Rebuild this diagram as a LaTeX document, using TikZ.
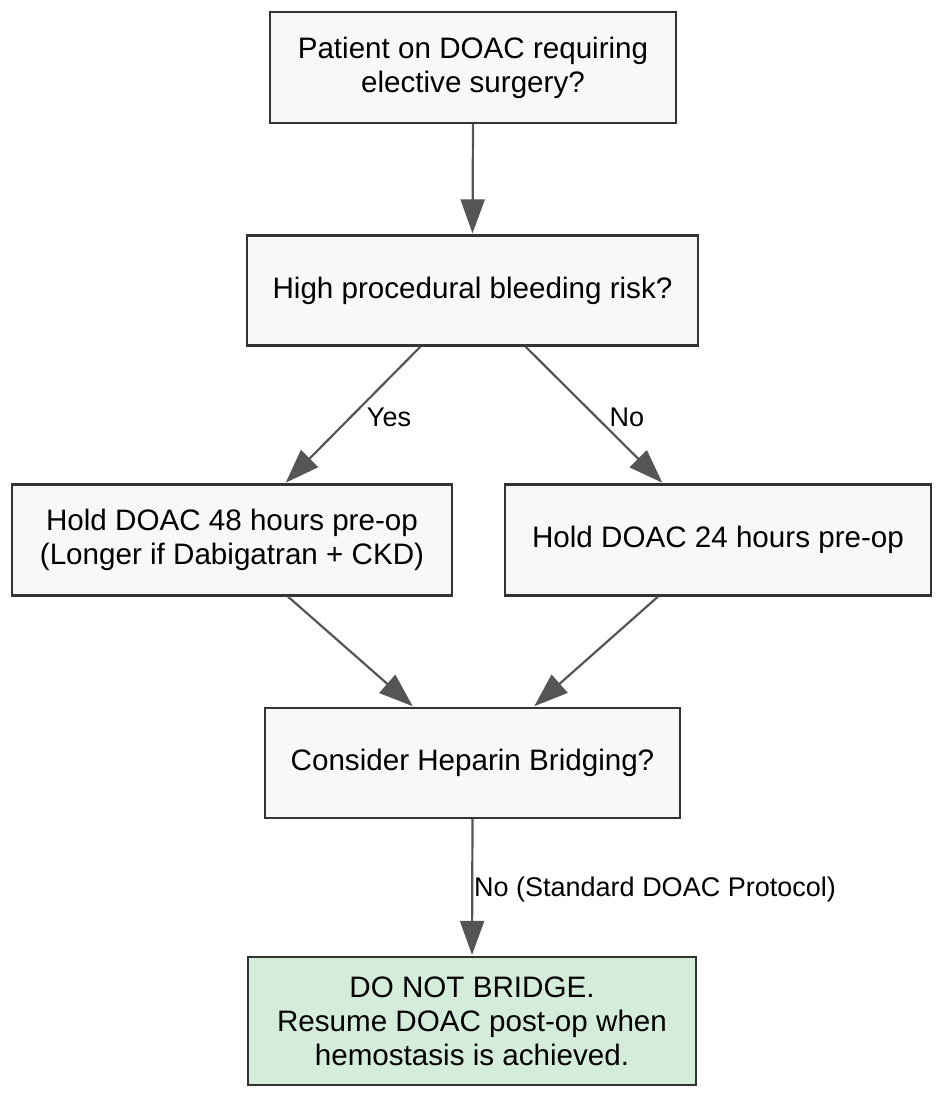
\documentclass[tikz,border=0pt]{standalone}
\usepackage{fontspec}
\setmainfont{Liberation Sans}
\usetikzlibrary{arrows.meta,calc}
\definecolor{boxfill}{HTML}{F8F8F8}
\definecolor{boxline}{HTML}{333333}
\definecolor{edgecol}{HTML}{555555}
\definecolor{greenfill}{HTML}{D4EDDA}
\tikzset{
  flowbox/.style={draw=boxline, line width=2.2pt, fill=boxfill, rectangle, align=center,
    inner sep=0pt, font=\fontsize{29.6}{34}\selectfont},
  okbox/.style={flowbox, fill=greenfill},
  flowedge/.style={draw=edgecol, line width=2.2pt, -{Triangle[length=34pt,width=24pt]}, shorten >=1pt},
  lbl/.style={inner sep=0pt, font=\fontsize{27}{31}\selectfont}
}
\begin{document}
\begin{tikzpicture}[x=1pt,y=-1pt]
\useasboundingbox (0,0) rectangle (942,1098);
\node[flowbox, minimum width=406pt, minimum height=111pt] (b1) at (473,67.5) {Patient on DOAC requiring\\elective surgery?};
\node[flowbox, minimum width=451pt, minimum height=110pt] (b2) at (472.5,290.5) {High procedural bleeding risk?};
\node[flowbox, minimum width=440pt, minimum height=111pt] (b3) at (232,540) {Hold DOAC 48 hours pre-op\\(Longer if Dabigatran + CKD)};
\node[flowbox, minimum width=426pt, minimum height=111pt] (b4) at (718,540) {Hold DOAC 24 hours pre-op};
\node[flowbox, minimum width=415pt, minimum height=110pt] (b5) at (472.5,763) {Consider Heparin Bridging?};
\node[okbox, minimum width=448pt, minimum height=128pt] (b6) at (472,1021) {DO NOT BRIDGE.\\Resume DOAC post-op when\\hemostasis is achieved.};
\draw[flowedge] (b1.south) -- (b2.north);
\draw[flowedge] ($(b2.south)+(-52,0)$) -- ($(b3.north)+(53,0)$);
\draw[flowedge] ($(b2.south)+(53,0)$) -- ($(b4.north)+(-55,0)$);
\draw[flowedge] ($(b3.south)+(56,0)$) -- ($(b5.north)+(-59,0)$);
\draw[flowedge] ($(b4.south)+(-60,0)$) -- ($(b5.north)+(61,0)$);
\draw[flowedge] (b5.south) -- (b6.north);
\node[lbl] (lyes) at (389,417) {Yes};
\node[lbl] (lno) at (627,417) {No};
\node[lbl, anchor=west] (lstd) at (474,890) {No (Standard DOAC Protocol)};
\end{tikzpicture}
\end{document}
